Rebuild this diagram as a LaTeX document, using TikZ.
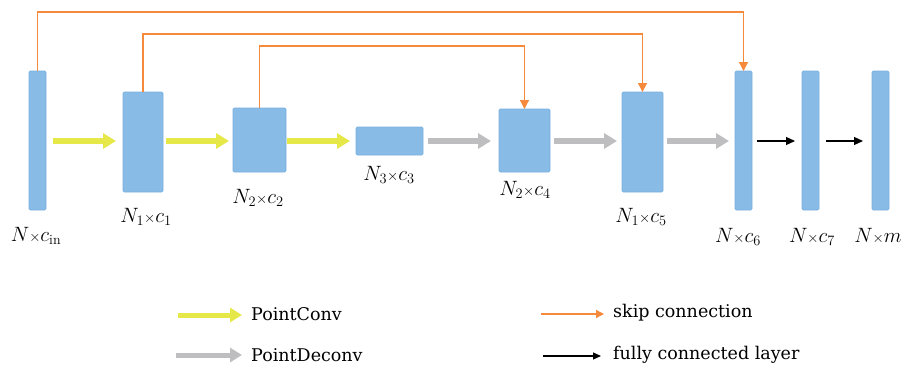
\documentclass[tikz,border=0pt]{standalone}
\usepackage{fontspec}
\newfontfamily\legfont{DejaVu Serif}
\usetikzlibrary{arrows.meta}
\definecolor{blockfill}{RGB}{136,188,230}
\definecolor{blockedge}{RGB}{120,176,224}
\definecolor{convyellow}{RGB}{230,232,74}
\definecolor{deconvgray}{RGB}{190,190,192}
\definecolor{skiporange}{RGB}{245,138,60}
\newcommand{\tm}{{\scriptstyle\times}}
\tikzset{
  block/.style={draw=blockedge, fill=blockfill, line width=0.6pt, rounded corners=1.2pt,
    inner sep=0pt, outer sep=0pt, anchor=north west},
  lbl/.style={font=\fontsize{20}{23}\selectfont, inner sep=0pt},
  legtext/.style={font=\legfont\fontsize{17.5}{21}\selectfont, anchor=west, inner sep=0pt},
  conv/.style={draw=convyellow, line width=5.5pt,
    -{Triangle[length=13pt,width=15pt,fill=convyellow]}},
  deconv/.style={draw=deconvgray, line width=5.5pt,
    -{Triangle[length=13pt,width=15pt,fill=deconvgray]}},
  skip/.style={draw=skiporange, line width=1.3pt,
    -{Triangle[length=9pt,width=9pt,fill=skiporange]}},
  fc/.style={draw=black, line width=1.2pt,
    -{Triangle[length=9pt,width=8pt]}},
}
\begin{document}
\begin{tikzpicture}[x=1pt,y=-1pt]
\useasboundingbox (0,0) rectangle (903,370);

% layer blocks
\node[block, minimum width=17pt, minimum height=139pt] (b0) at (29,71) {};
\node[block, minimum width=40pt, minimum height=100pt] (b1) at (123,92) {};
\node[block, minimum width=53pt, minimum height=64pt]  (b2) at (233,108) {};
\node[block, minimum width=67pt, minimum height=28pt]  (b3) at (356,127) {};
\node[block, minimum width=51pt, minimum height=63pt]  (b4) at (499,109) {};
\node[block, minimum width=41pt, minimum height=100pt] (b5) at (622,92) {};
\node[block, minimum width=17pt, minimum height=139pt] (b6) at (735,71) {};
\node[block, minimum width=17pt, minimum height=139pt] (b7) at (802,71) {};
\node[block, minimum width=17pt, minimum height=139pt] (b8) at (872,71) {};

% size labels
\node[lbl] (l0) at (36,236) {$N\tm c_{\mathrm{in}}$};
\node[lbl] (l1) at (146,217) {$N_1\tm c_1$};
\node[lbl] (l2) at (258,198) {$N_2\tm c_2$};
\node[lbl] (l3) at (389,175) {$N_3\tm c_3$};
\node[lbl] (l4) at (525,190) {$N_2\tm c_4$};
\node[lbl] (l5) at (641,217) {$N_1\tm c_5$};
\node[lbl] (l6) at (738,237) {$N\tm c_6$};
\node[lbl] (l7) at (812,237) {$N\tm c_7$};
\node[lbl] (l8) at (878,236) {$N\tm m$};

% PointConv / PointDeconv arrows
\coordinate (axis) at (0,141);
\draw[conv, shorten <=7pt, shorten >=7pt] (b0.east |- axis) -- (b1.west |- axis);
\draw[conv, shorten <=3pt, shorten >=4pt] (b1.east |- axis) -- (b2.west |- axis);
\draw[conv, shorten <=1pt, shorten >=6pt] (b2.east |- axis) -- (b3.west |- axis);
\draw[deconv, shorten <=5pt, shorten >=8pt] (b3.east |- axis) -- (b4.west |- axis);
\draw[deconv, shorten <=4pt, shorten >=5pt] (b4.east |- axis) -- (b5.west |- axis);
\draw[deconv, shorten <=4pt, shorten >=6pt] (b5.east |- axis) -- (b6.west |- axis);

% fully connected arrows
\draw[fc, shorten <=5pt, shorten >=7pt] (b6.east |- axis) -- (b7.west |- axis);
\draw[fc, shorten <=7pt, shorten >=9pt] (b7.east |- axis) -- (b8.west |- axis);

% skip connections
\coordinate (top0) at (0,12);
\coordinate (top1) at (0,34);
\coordinate (top2) at (0,46);
\draw[skip] (b0.north) -- (b0.north |- top0) -| (b6.north);
\draw[skip] (b1.north) -- (b1.north |- top1) -| (b5.north);
\draw[skip] (b2.north) -- (b2.north |- top2) -| (b4.north);

% legend
\coordinate (k1a) at (178,315); \coordinate (k1b) at (242,315);
\coordinate (k2a) at (176,355); \coordinate (k2b) at (242,355);
\coordinate (k3a) at (541,314); \coordinate (k3b) at (604,314);
\coordinate (k4a) at (543,356); \coordinate (k4b) at (601,356);
\draw[conv, line width=5pt, -{Triangle[length=12pt,width=14pt,fill=convyellow]}] (k1a) -- (k1b);
\draw[deconv, line width=5pt, -{Triangle[length=12pt,width=14pt,fill=deconvgray]}] (k2a) -- (k2b);
\draw[skip, -{Triangle[length=8pt,width=8pt,fill=skiporange]}] (k3a) -- (k3b);
\draw[fc, -{Triangle[length=8pt,width=7pt]}] (k4a) -- (k4b);
\node[legtext] (t1) at (251,314) {PointConv};
\node[legtext] (t2) at (251,355) {PointDeconv};
\node[legtext] (t3) at (613,313) {skip connection};
\node[legtext] (t4) at (613,355) {fully connected layer};
\end{tikzpicture}
\end{document}
